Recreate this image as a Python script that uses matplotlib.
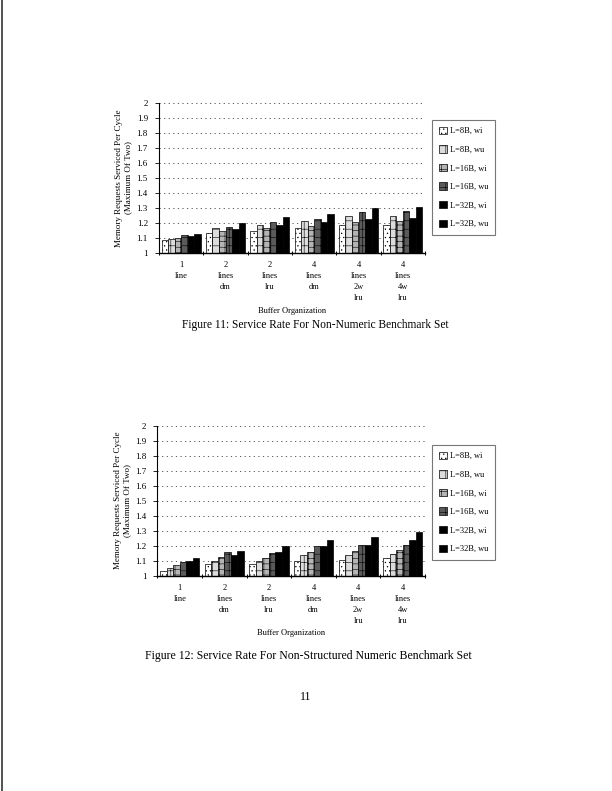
import numpy as np
import matplotlib
matplotlib.use("Agg")
import matplotlib.pyplot as plt
from matplotlib.lines import Line2D

plt.rcParams['font.family'] = ['Liberation Serif', 'DejaVu Serif']
plt.rcParams['hatch.linewidth'] = 0.4

groups = ["1\nline", "2\nlines\ndm", "2\nlines\nlru", "4\nlines\ndm",
          "4\nlines\n2w\nlru", "4\nlines\n4w\nlru"]
series = ["L=8B, wi", "L=8B, wu", "L=16B, wi", "L=16B, wu", "L=32B, wi", "L=32B, wu"]

# Figure 11: Non-Numeric benchmark set
fig11 = [
    [1.085, 1.135, 1.145, 1.17, 1.19, 1.19],    # L=8B, wi
    [1.095, 1.165, 1.185, 1.215, 1.245, 1.25],  # L=8B, wu
    [1.10, 1.145, 1.165, 1.18, 1.21, 1.215],    # L=16B, wi
    [1.12, 1.175, 1.21, 1.23, 1.275, 1.28],     # L=16B, wu
    [1.115, 1.16, 1.19, 1.21, 1.23, 1.235],     # L=32B, wi
    [1.13, 1.20, 1.24, 1.26, 1.30, 1.31],       # L=32B, wu
]

# Figure 12: Non-Structured Numeric benchmark set
fig12 = [
    [1.03, 1.075, 1.075, 1.10, 1.105, 1.115],
    [1.05, 1.10, 1.10, 1.135, 1.135, 1.145],
    [1.07, 1.125, 1.115, 1.155, 1.165, 1.17],
    [1.09, 1.155, 1.15, 1.195, 1.205, 1.205],
    [1.095, 1.14, 1.155, 1.195, 1.205, 1.235],
    [1.115, 1.165, 1.20, 1.24, 1.255, 1.29],
]

faces = ['white', '#dcdcdc', '#b4b4b4', '#5a5a5a', 'black', 'black']
hatches = ['....', '++', '+++', '++', None, None]

fig = plt.figure(figsize=(6.12, 7.91), dpi=100)


def draw(ax, data, leg_xy):
    n = len(series)
    w = 0.88 / n
    x = np.arange(len(groups))
    for i in range(n):
        ax.bar(x + 0.5 - 0.44 + w * (i + 0.5), np.array(data[i]) - 1, w, bottom=1,
               color=faces[i], edgecolor='black', linewidth=0.5,
               hatch=hatches[i], label=series[i])
    ax.set_xlim(0, 6)
    ax.set_ylim(1, 2)
    yt = np.round(np.arange(1, 2.01, 0.1), 1)
    ax.set_yticks(yt)
    ax.set_yticklabels(['%g' % v for v in yt], fontsize=6.5)
    for v in yt[1:]:
        ax.axhline(v, color='#444444', lw=0.6, ls=(0, (1.5, 4)), zorder=0)
    ax.set_xticks(x + 0.5)
    ax.set_xticklabels(groups, fontsize=6, va='top', linespacing=1.5)
    ax.set_xticks(np.arange(0, 7), minor=True)
    ax.tick_params(axis='x', which='major', length=0, pad=6)
    ax.tick_params(axis='x', which='minor', length=3, direction='inout', width=0.7)
    ax.tick_params(axis='y', length=3, width=0.6, direction='out', pad=5)
    for s in ['top', 'right']:
        ax.spines[s].set_visible(False)
    ax.spines['left'].set_linewidth(0.8)
    ax.spines['bottom'].set_linewidth(1.0)
    ax.set_ylabel("Memory Requests Serviced Per Cycle\n(Maximum Of Two)",
                  fontsize=6.5, labelpad=3, linespacing=1.2)
    ax.set_xlabel("Buffer Organization", fontsize=6, labelpad=3)
    leg = ax.legend(loc='upper left', bbox_to_anchor=leg_xy,
                    bbox_transform=fig.transFigure, borderaxespad=0,
                    fontsize=6, labelspacing=1.2, handlelength=1.0,
                    handleheight=1.0, handletextpad=0.3, borderpad=0.8,
                    frameon=True, fancybox=False, edgecolor='#555555')
    leg.get_frame().set_linewidth(0.8)


ax1 = fig.add_axes([159 / 612, 1 - 253 / 791, 266 / 612, 150 / 791])
draw(ax1, fig11, (432 / 612, 1 - 120 / 791))
fig.text(315 / 612, 1 - 325 / 791, "Figure 11: Service Rate For Non-Numeric Benchmark Set",
         ha='center', va='center', fontsize=8.3)

ax2 = fig.add_axes([157.5 / 612, 1 - 575.7 / 791, 267.5 / 612, 150 / 791])
draw(ax2, fig12, (432 / 612, 1 - 445 / 791))
fig.text(308 / 612, 1 - 656 / 791, "Figure 12: Service Rate For Non-Structured Numeric Benchmark Set",
         ha='center', va='center', fontsize=8.5)

fig.text(306 / 612, 1 - 697 / 791, "11", ha='center', va='center', fontsize=8.5)

# scan edge on the left of the page
fig.add_artist(Line2D([1.5 / 612, 1.5 / 612], [0, 1], color='#333333', lw=1.2,
                      transform=fig.transFigure))

fig.savefig("out.png", dpi=100)
